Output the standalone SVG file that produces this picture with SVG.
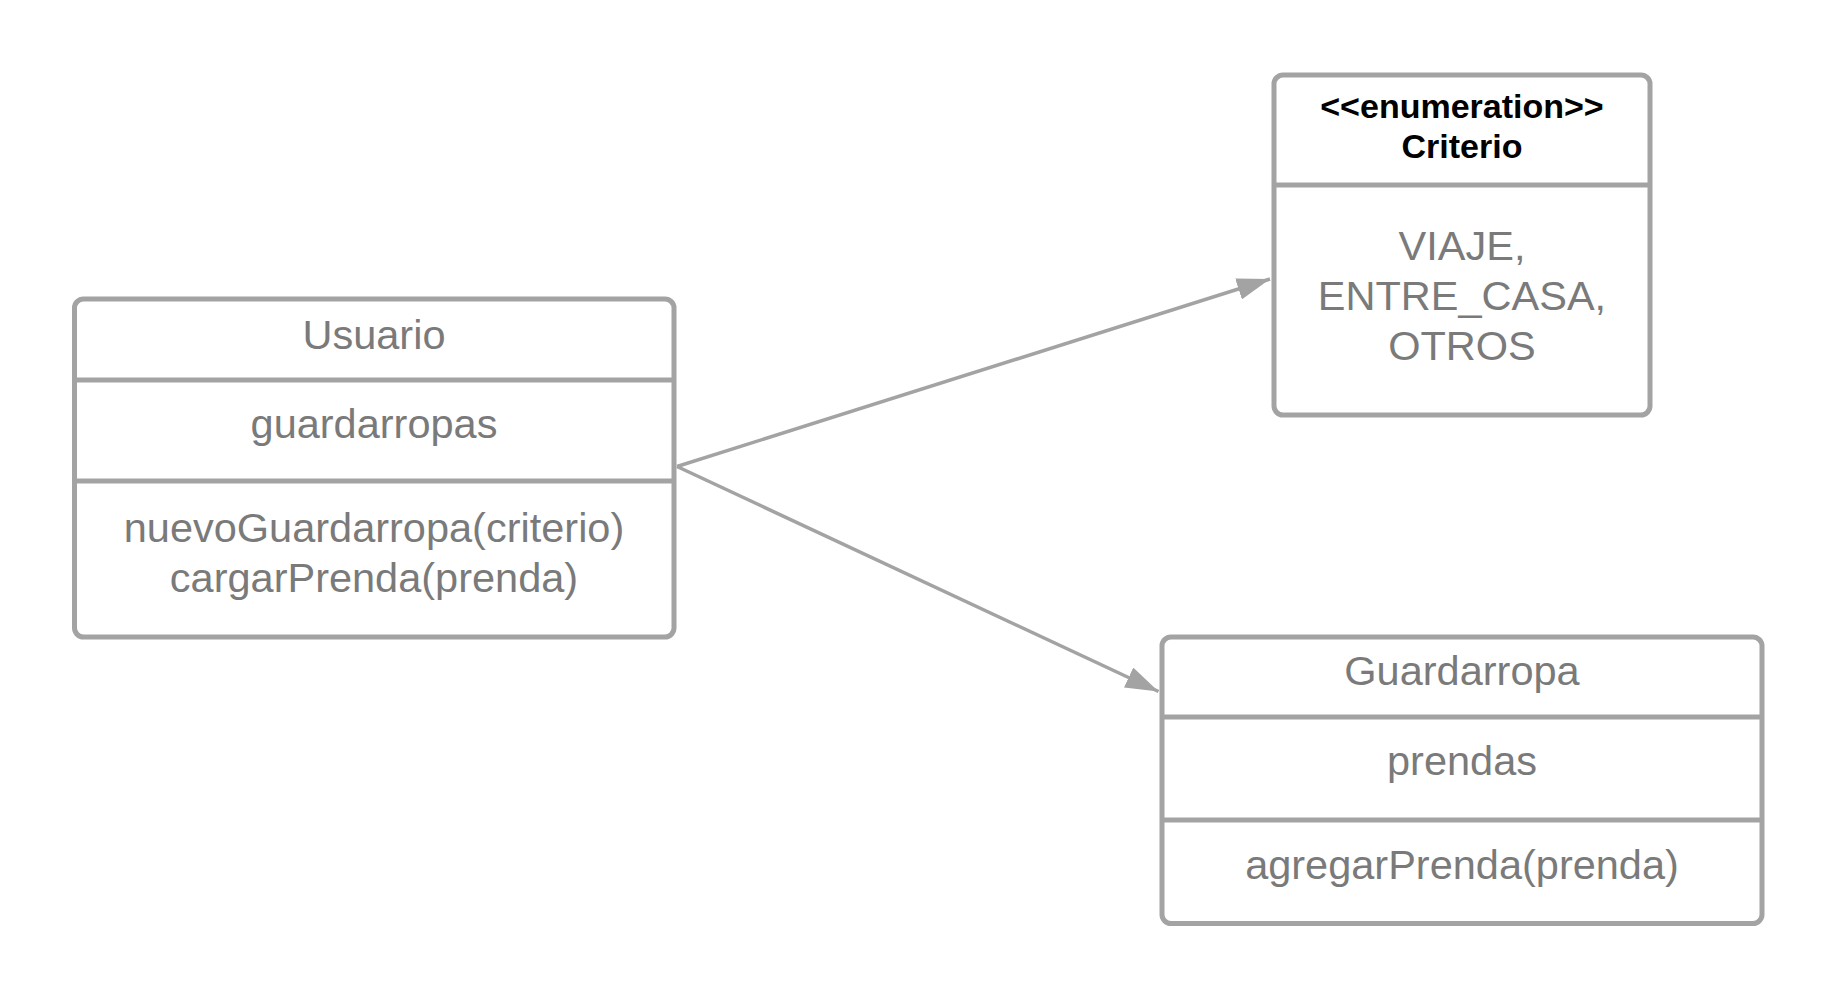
<svg xmlns="http://www.w3.org/2000/svg" width="1838" height="999" viewBox="0 0 1838 999">
<defs>
<style>
.box{fill:#fff;stroke:#a3a3a3;stroke-width:5}
.div{stroke:#a3a3a3;stroke-width:5}
.t{font-family:"Liberation Sans",Arial,sans-serif;font-size:41.5px;fill:#7a7a7a;text-anchor:middle}
.h{font-family:"Liberation Sans",Arial,sans-serif;font-size:34px;font-weight:bold;fill:#000;text-anchor:middle}
.c{fill:none;stroke:#a3a3a3;stroke-width:3.5}
</style>
<marker id="arr" viewBox="0 0 33 22" refX="33" refY="11" markerWidth="33" markerHeight="22" markerUnits="userSpaceOnUse" orient="auto">
<path d="M0,0 L33,11 L0,22 z" fill="#a3a3a3"/>
</marker>
</defs>
<rect width="1838" height="999" fill="#fff"/>
<g id="connectors">
<line class="c" x1="677" y1="466.5" x2="1270" y2="279" marker-end="url(#arr)"/>
<line class="c" x1="677" y1="466.5" x2="1158.5" y2="691.5" marker-end="url(#arr)"/>
</g>
<g id="usuario">
<rect class="box" x="74.5" y="299" width="599.5" height="338" rx="9"/>
<line class="div" x1="74.5" y1="380" x2="674" y2="380"/>
<line class="div" x1="74.5" y1="481" x2="674" y2="481"/>
<text class="t" x="374" y="348.5">Usuario</text>
<text class="t" x="374" y="438">guardarropas</text>
<text class="t" x="374" y="542">nuevoGuardarropa(criterio)</text>
<text class="t" x="374" y="592">cargarPrenda(prenda)</text>
</g>
<g id="criterio">
<rect class="box" x="1274" y="75" width="376" height="340" rx="9"/>
<line class="div" x1="1274" y1="185" x2="1650" y2="185"/>
<text class="h" x="1462" y="117.5">&lt;&lt;enumeration&gt;&gt;</text>
<text class="h" x="1462" y="157.5">Criterio</text>
<text class="t" x="1462" y="260">VIAJE,</text>
<text class="t" x="1462" y="310">ENTRE_CASA,</text>
<text class="t" x="1462" y="360">OTROS</text>
</g>
<g id="guardarropa">
<rect class="box" x="1162" y="637" width="600" height="286.5" rx="9"/>
<line class="div" x1="1162" y1="717" x2="1762" y2="717"/>
<line class="div" x1="1162" y1="820" x2="1762" y2="820"/>
<text class="t" x="1462" y="685">Guardarropa</text>
<text class="t" x="1462" y="775">prendas</text>
<text class="t" x="1462" y="878.5">agregarPrenda(prenda)</text>
</g>
</svg>
